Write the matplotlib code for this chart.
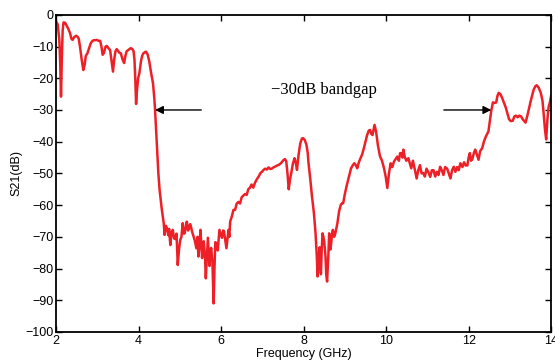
import matplotlib
matplotlib.use("Agg")
import matplotlib.pyplot as plt

# Measured transmission S21 vs frequency
freq = [2.00, 2.04, 2.08, 2.10, 2.12, 2.14, 2.16, 2.18, 2.22, 2.26, 2.30, 2.34, 2.37, 2.40,
        2.44, 2.49, 2.52, 2.55, 2.58, 2.62, 2.66, 2.69, 2.72, 2.76, 2.80, 2.84, 2.87, 2.91,
        2.95, 2.99, 3.03, 3.07, 3.10, 3.13, 3.16, 3.20, 3.23, 3.27, 3.31, 3.34, 3.38, 3.41,
        3.44, 3.47, 3.51, 3.54, 3.57, 3.61, 3.65, 3.68, 3.71, 3.76, 3.81, 3.85, 3.88, 3.90,
        3.92, 3.94, 3.96, 3.99, 4.02, 4.06, 4.09, 4.12, 4.15, 4.18, 4.22, 4.26, 4.30, 4.35,
        4.38, 4.40, 4.44, 4.48, 4.51, 4.56, 4.61, 4.63, 4.66, 4.69, 4.72, 4.74, 4.77, 4.80,
        4.83, 4.86, 4.89, 4.92, 4.95, 4.98, 5.01, 5.04, 5.07, 5.10, 5.12, 5.15, 5.17, 5.20,
        5.22, 5.25, 5.27, 5.30, 5.33, 5.36, 5.40, 5.43, 5.45, 5.48, 5.50, 5.52, 5.54, 5.56,
        5.58, 5.61, 5.63, 5.66, 5.68, 5.70, 5.72, 5.74, 5.76, 5.79, 5.82, 5.84, 5.86, 5.89,
        5.92, 5.94, 5.96, 5.99, 6.02, 6.05, 6.07, 6.10, 6.13, 6.16, 6.18, 6.20, 6.22, 6.26,
        6.30, 6.34, 6.38, 6.42, 6.46, 6.50, 6.54, 6.58, 6.62, 6.66, 6.70, 6.74, 6.78, 6.82,
        6.86, 6.91, 6.95, 6.99, 7.03, 7.07, 7.11, 7.15, 7.19, 7.23, 7.27, 7.32, 7.36, 7.40,
        7.45, 7.49, 7.52, 7.55, 7.58, 7.61, 7.64, 7.67, 7.70, 7.74, 7.78, 7.81, 7.84, 7.88,
        7.92, 7.96, 7.99, 8.03, 8.07, 8.10, 8.12, 8.16, 8.20, 8.25, 8.29, 8.32, 8.34, 8.37,
        8.39, 8.42, 8.44, 8.46, 8.48, 8.50, 8.53, 8.55, 8.57, 8.60, 8.62, 8.65, 8.67, 8.69,
        8.71, 8.74, 8.77, 8.80, 8.82, 8.86, 8.90, 8.93, 8.96, 9.00, 9.05, 9.10, 9.15, 9.19,
        9.23, 9.27, 9.30, 9.34, 9.38, 9.42, 9.46, 9.50, 9.54, 9.58, 9.61, 9.64, 9.67, 9.70,
        9.72, 9.76, 9.80, 9.85, 9.90, 9.95, 9.99, 10.03, 10.07, 10.11, 10.15, 10.19, 10.23,
        10.27, 10.31, 10.34, 10.37, 10.40, 10.42, 10.45, 10.49, 10.54, 10.58, 10.61, 10.65,
        10.70, 10.74, 10.78, 10.82, 10.86, 10.90, 10.94, 10.98, 11.02, 11.07, 11.11, 11.15,
        11.19, 11.23, 11.27, 11.31, 11.35, 11.39, 11.43, 11.48, 11.52, 11.56, 11.60, 11.64,
        11.68, 11.72, 11.76, 11.80, 11.85, 11.89, 11.93, 11.97, 12.00, 12.03, 12.06, 12.09,
        12.13, 12.16, 12.20, 12.24, 12.28, 12.33, 12.37, 12.42, 12.48, 12.51, 12.55, 12.59,
        12.63, 12.67, 12.70, 12.73, 12.77, 12.81, 12.85, 12.90, 12.94, 12.98, 13.02, 13.07,
        13.11, 13.15, 13.19, 13.23, 13.27, 13.31, 13.35, 13.38, 13.42, 13.46, 13.50, 13.54,
        13.58, 13.62, 13.65, 13.70, 13.75, 13.79, 13.82, 13.85, 13.88, 13.91, 13.94, 13.97,
        14.00]
s21 = [-2.1, -3.0, -8.0, -15.0, -25.8, -14.0, -5.0, -2.4, -2.5, -3.5, -4.5, -5.8, -7.5, -7.9,
       -7.0, -6.6, -6.9, -7.5, -10.0, -14.0, -17.4, -16.0, -13.0, -12.1, -10.5, -9.0, -8.4, -8.0,
       -8.0, -7.9, -8.2, -8.2, -10.0, -12.6, -12.0, -10.0, -9.8, -10.5, -11.1, -14.0, -17.9, -14.0,
       -11.5, -10.8, -11.5, -12.0, -12.1, -14.0, -15.2, -13.0, -11.5, -11.0, -10.5, -10.8, -11.5, -14.0,
       -20.0, -28.1, -24.0, -20.0, -18.4, -14.5, -12.8, -12.1, -11.8, -11.6, -12.5, -14.7, -18.0, -21.6,
       -26.0, -30.0, -40.0, -50.0, -55.2, -61.0, -65.7, -69.4, -66.5, -67.3, -69.5, -67.5, -72.6, -68.5,
       -67.8, -70.5, -70.7, -69.0, -78.9, -74.0, -71.0, -70.0, -65.7, -69.0, -68.8, -66.5, -65.2, -68.0,
       -67.3, -66.0, -66.8, -68.5, -69.7, -71.0, -73.6, -70.0, -76.2, -72.0, -67.8, -72.0, -76.7, -73.0,
       -71.4, -76.0, -83.1, -75.0, -70.3, -75.0, -79.2, -75.0, -73.5, -78.0, -91.0, -80.0, -71.7, -72.0,
       -74.3, -71.0, -67.8, -69.0, -70.3, -68.0, -68.2, -71.0, -73.6, -70.0, -67.8, -70.0, -65.2, -63.6,
       -61.5, -61.5, -59.5, -59.0, -59.5, -57.5, -57.0, -56.5, -56.8, -55.0, -54.5, -53.5, -54.5, -53.0,
       -52.0, -51.0, -50.0, -49.5, -48.9, -48.5, -48.8, -48.1, -48.6, -48.5, -48.1, -47.8, -47.5, -47.3,
       -46.8, -46.2, -45.7, -45.5, -46.2, -50.0, -55.0, -52.0, -50.0, -47.0, -45.2, -46.5, -48.9, -44.0,
       -40.5, -39.0, -38.9, -39.5, -41.0, -43.5, -46.8, -51.5, -56.8, -62.5, -68.9, -76.0, -82.5, -76.0,
       -73.3, -81.8, -74.0, -68.9, -70.0, -71.4, -76.0, -82.0, -84.1, -76.0, -68.9, -74.0, -72.0, -69.0,
       -67.8, -70.0, -68.9, -67.0, -65.7, -62.0, -60.0, -59.4, -59.4, -56.5, -53.6, -51.0, -48.4, -47.5,
       -46.8, -47.5, -48.4, -46.5, -45.2, -44.0, -42.1, -40.0, -37.9, -36.5, -36.3, -37.5, -37.9, -36.0,
       -34.7, -37.0, -41.0, -44.5, -46.0, -48.4, -51.0, -54.6, -50.0, -46.8, -48.0, -46.3, -45.5,
       -44.7, -46.0, -43.6, -43.6, -45.0, -42.5, -44.7, -46.0, -45.2, -47.0, -48.4, -46.0,
       -49.0, -51.6, -49.0, -47.4, -50.0, -49.9, -51.0, -48.5, -49.5, -51.1, -49.0, -49.0,
       -51.0, -49.5, -50.5, -47.9, -49.0, -50.5, -48.0, -48.5, -50.0, -51.6, -49.0, -47.9,
       -49.5, -48.0, -49.0, -46.8, -48.0, -46.5, -47.5, -47.5, -45.0, -43.6, -46.0, -45.5,
       -43.5, -42.5, -44.0, -45.7, -43.0, -42.0, -40.0, -38.3, -36.8, -34.0, -30.2, -27.6,
       -27.8, -27.6, -25.5, -24.6, -25.0, -26.1, -27.5, -29.2, -31.0, -32.9, -33.5, -33.4,
       -32.0, -31.8, -32.3, -31.8, -32.0, -32.9, -33.5, -34.0, -32.0, -29.7, -27.5, -25.4,
       -23.5, -22.5, -22.2, -23.0, -24.6, -27.0, -31.3, -36.0, -39.3, -33.0, -29.0, -27.6,
       -25.5]

x_ticks = [2, 4, 6, 8, 10, 12, 14]
y_ticks = [0, -10, -20, -30, -40, -50, -60, -70, -80, -90, -100]

# bandgap edges at -30 dB
gap_level = -30
gap_lo = 4.40
gap_hi = 12.55

plt.rcParams['font.family'] = ['Liberation Sans', 'DejaVu Sans']

fig = plt.figure(figsize=(5.55, 3.62), dpi=100)
ax = fig.add_axes([0.101, 0.083, 0.892, 0.876])

ax.plot(freq, s21, color='#ee2027', linewidth=1.8)

ax.set_xlim(2, 14)
ax.set_ylim(-100, 0)
ax.set_xticks(x_ticks)
ax.set_yticks(y_ticks)
ax.tick_params(direction='in', length=4, width=1.0, labelsize=9,
               top=True, right=True, pad=2)
for sp in ax.spines.values():
    sp.set_linewidth(1.3)

ax.set_xlabel('Frequency (GHz)', fontsize=9, labelpad=1)
ax.set_ylabel('S21(dB)', fontsize=9, labelpad=2)

arrow = dict(arrowstyle='-|>', color='black', lw=1.0, mutation_scale=12,
             shrinkA=0, shrinkB=0)
ax.annotate('', xy=(gap_lo, gap_level), xytext=(5.52, gap_level), arrowprops=arrow)
ax.annotate('', xy=(gap_hi, gap_level), xytext=(11.40, gap_level), arrowprops=arrow)
ax.text(7.22, -23.6, '\u221230dB bandgap', fontsize=12, va='center', ha='left',
        family=['Liberation Serif', 'DejaVu Serif'])

fig.savefig('out.png', dpi=100)
